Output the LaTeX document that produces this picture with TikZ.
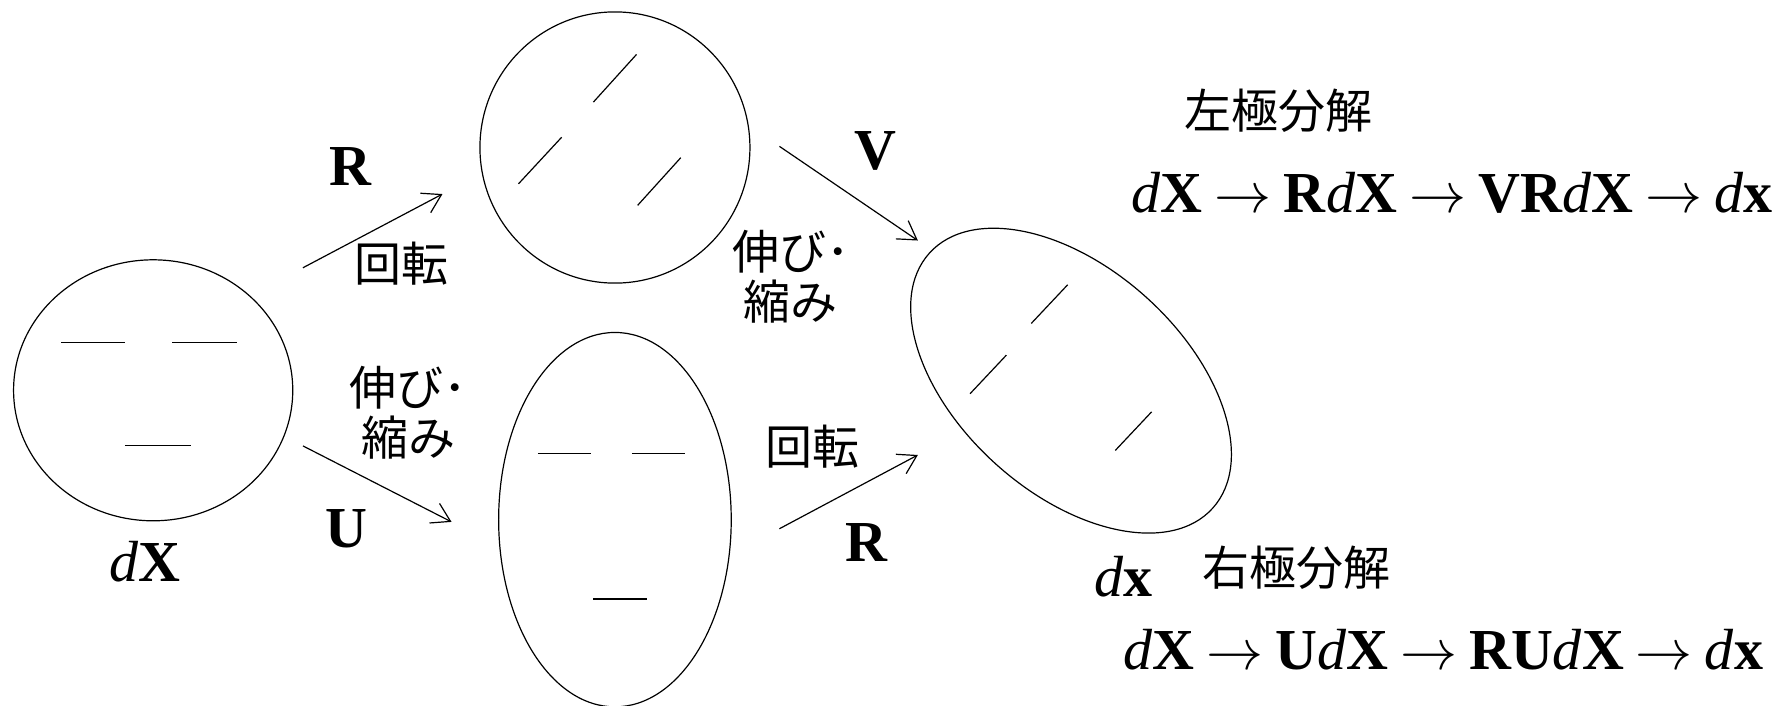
\documentclass[tikz,border=0pt]{standalone}
\usepackage{fontspec}
\setmainfont{Liberation Serif}
\newfontfamily\jp{Noto Sans CJK JP}
\usetikzlibrary{shapes.geometric,arrows.meta}
\newcommand{\myarr}{\hspace{6pt}\resizebox{28.5pt}{!}{$\rightarrow$}\hspace{6pt}}
\newcommand{\dd}{\textit{d}}
\begin{document}
\begin{tikzpicture}[x=0.5673pt,y=-0.5673pt,
  blob/.style={draw,ellipse,inner sep=0pt,line width=0.6pt},
  seg/.style={line width=0.6pt},
  conn/.style={-{Straight Barb[length=9pt,width=11pt]},line width=0.6pt},
  lat/.style={font=\fontsize{29}{34}\selectfont,inner sep=0pt},
  jpl/.style={font=\jp\fontsize{23.5}{25}\selectfont,inner sep=0pt,align=center},
]
\useasboundingbox (0,0) rectangle (1568,622);

% ellipses
\node[blob,minimum width=139.6pt,minimum height=130.5pt] (A) at (135,344) {};
\node[blob,minimum width=135pt,minimum height=135.6pt] (B) at (542,130) {};
\node[blob,minimum width=116.3pt,minimum height=187.2pt] (C) at (542,458) {};
\node[blob,minimum width=190.6pt,minimum height=112.3pt,rotate=-42] (D) at (944,335.5) {};

% segments inside
\draw[seg] (54,302) -- (110,302);
\draw[seg] (152,302) -- (209,302);
\draw[seg] (110,393) -- (168,393);
\draw[seg] (523,90) -- (561,48);
\draw[seg] (457,162) -- (495,121);
\draw[seg] (562,181) -- (600,139);
\draw[seg] (474,400) -- (521,400);
\draw[seg] (557,400) -- (604,400);
\draw[seg] (523,528) -- (570,528);
\draw[seg] (909,285) -- (941,251);
\draw[seg] (855,347) -- (887,313);
\draw[seg] (983,397) -- (1015,363);

% connectors
\coordinate (a1) at (267,236); \coordinate (b1) at (390,171);
\coordinate (a2) at (267,393); \coordinate (c1) at (398,460);
\coordinate (b2) at (687,129); \coordinate (d1) at (809,212);
\coordinate (c2) at (687,466); \coordinate (d2) at (809,401);
\draw[conn] (a1) -- (b1);
\draw[conn] (a2) -- (c1);
\draw[conn] (b2) -- (d1);
\draw[conn] (c2) -- (d2);

% labels
\node[lat] (lR1) at (309,147) {\textbf{R}};
\node[jpl] (lrot1) at (354,232) {回転};
\node[jpl] (lst1) at (360,364) {伸び･\\縮み};
\node[lat] (lU) at (305,466) {\textbf{U}};
\node[lat] (lV) at (772,133) {\textbf{V}};
\node[jpl] (lst2) at (697,244) {伸び･\\縮み};
\node[jpl] (lrot2) at (716,394) {回転};
\node[lat] (lR2) at (764,478) {\textbf{R}};
\node[lat] (ldX) at (128,495) {\dd\textbf{X}};
\node[lat] (ldx) at (990,508) {\dd\textbf{x}};

\node[jpl] (left) at (1127,98) {左極分解};
\node[lat] (eq1) at (1280,170) {\dd\textbf{X}\myarr\textbf{R}\dd\textbf{X}\myarr\textbf{VR}\dd\textbf{X}\myarr\dd\textbf{x}};
\node[jpl] (right) at (1143,500) {右極分解};
\node[lat] (eq2) at (1272,573) {\dd\textbf{X}\myarr\textbf{U}\dd\textbf{X}\myarr\textbf{RU}\dd\textbf{X}\myarr\dd\textbf{x}};
\end{tikzpicture}
\end{document}
